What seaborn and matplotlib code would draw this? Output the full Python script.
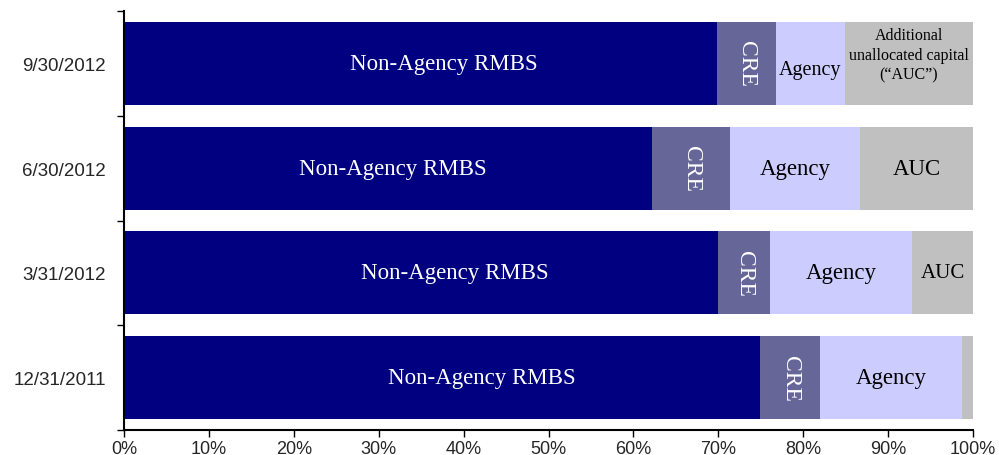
import numpy as np
import pandas as pd
import matplotlib
matplotlib.use("Agg")
import matplotlib.pyplot as plt
import seaborn as sns
from matplotlib.ticker import FixedLocator, PercentFormatter

# Data (share of equity, %), top bar first
dates = ["9/30/2012", "6/30/2012", "3/31/2012", "12/31/2011"]
segments = ["Non-Agency RMBS", "CRE", "Agency", "AUC"]
non_agency = [69.8, 62.2, 70.0, 74.9]
cre = [7.0, 9.2, 6.1, 7.1]
agency = [8.1, 15.3, 16.7, 16.7]
auc = [15.1, 13.3, 7.2, 1.3]

# In-bar labels (None = no label)
na_text = ["Non-Agency RMBS"] * 4
cre_text = ["CRE"] * 4
agency_text = ["Agency"] * 4
auc_text = ["Additional\nunallocated capital\n(\u201cAUC\u201d)", "AUC", "AUC", None]

colors = {"Non-Agency RMBS": "#000080", "CRE": "#666699",
          "Agency": "#CCCCFF", "AUC": "#C0C0C0"}
text_colors = {"Non-Agency RMBS": "white", "CRE": "white",
               "Agency": "black", "AUC": "black"}

sns.set_style("white")
plt.rcParams["font.family"] = ["Liberation Sans", "DejaVu Sans"]

df = pd.DataFrame({"date": dates, "Non-Agency RMBS": non_agency, "CRE": cre,
                   "Agency": agency, "AUC": auc})
values = df[segments].to_numpy()
cum = values.cumsum(axis=1)
left = cum - values

fig = plt.figure(figsize=(9.99, 4.56), dpi=100)
ax = fig.add_axes([124 / 999, 25 / 456, 849 / 999, 419 / 456])

# overlay cumulative bars, widest first
for i in range(len(segments) - 1, -1, -1):
    sns.barplot(x=cum[:, i], y=dates, order=dates, orient="h",
                color=colors[segments[i]], width=0.79, saturation=1,
                edgecolor="none", ax=ax)

labels = [na_text, cre_text, agency_text, auc_text]
sizes = [[16.5] * 4, [17] * 4, [14.5, 16.5, 16.5, 16.5], [11.5, 16.5, 15, 15]]
na_shift = [2.8, 0.6, 4.0, 4.7]
# small vertical nudges for the top bar labels
y_shift = [[0, 0, 0, 0], [0, 0, 0, 0], [0.06, 0, 0, 0], [-0.08, 0, 0, 0]]
for j, d in enumerate(dates):
    for i, seg in enumerate(segments):
        txt = labels[i][j]
        if txt is None:
            continue
        xc = left[j, i] + values[j, i] / 2
        if i == 0:
            xc += na_shift[j]
        ax.text(xc, j + y_shift[i][j], txt, ha="center", va="center",
                rotation=270 if seg == "CRE" else 0,
                color=text_colors[seg], fontsize=sizes[i][j],
                family="Liberation Serif", linespacing=1.3)

ax.set_xlim(0, 100)
ax.set_ylim(len(dates) - 0.5, -0.5)
ax.set_xticks(np.arange(0, 101, 10))
ax.xaxis.set_major_formatter(PercentFormatter(decimals=0))
ax.yaxis.set_minor_locator(FixedLocator(np.arange(-0.5, len(dates), 1)))
ax.tick_params(axis="y", which="major", left=True, length=0, pad=13, labelsize=13.5)
ax.tick_params(axis="y", which="minor", left=True, length=5, width=1,
               direction="out", color="black")
ax.tick_params(axis="x", bottom=True, length=5, width=1, direction="out",
               color="black", labelsize=13, pad=2)
ax.set_xlabel("")
ax.set_ylabel("")
sns.despine(ax=ax)
for s in ["left", "bottom"]:
    ax.spines[s].set_color("black")
    ax.spines[s].set_linewidth(1.5)

fig.savefig("out.png", dpi=100)
